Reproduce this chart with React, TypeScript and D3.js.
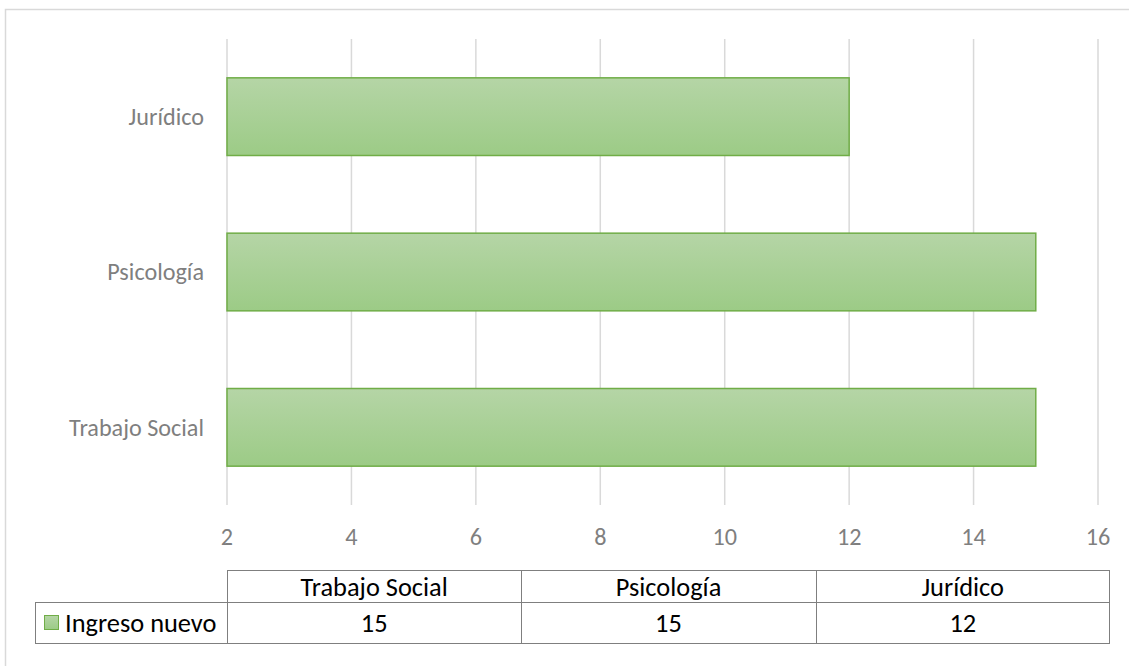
import * as d3 from 'd3'

// ─── Data ─────────────────────────────────────────────────────────────────────

const categories = ['Trabajo Social', 'Psicología', 'Jurídico']
const values = [15, 15, 12]
const seriesName = 'Ingreso nuevo'
const xTicks = [2, 4, 6, 8, 10, 12, 14, 16]

// ─── Layout ───────────────────────────────────────────────────────────────────

const W = 1129
const H = 666
const PLOT = { left: 227, right: 1098, top: 39, bottom: 505 }
const TABLE = { top: 570, mid: 602, bottom: 643, legendLeft: 35, right: 1110 }
const FONT = 'Carlito, Calibri, Lato, "Open Sans", sans-serif'
const LABEL_SIZE = 24.2
const TABLE_SIZE = 26.4

export default function App() {
  const x = d3.scaleLinear().domain([2, 16]).range([PLOT.left, PLOT.right])
  // Jurídico on top, Trabajo Social at bottom
  const y = d3.scaleBand<string>()
    .domain([...categories].reverse())
    .range([PLOT.top, PLOT.bottom])
    .paddingInner(0.5)
    .paddingOuter(0.25)

  const col = d3.scaleBand<string>()
    .domain(categories)
    .range([PLOT.left, TABLE.right])

  return (
    <svg width={W} height={H} style={{ position: 'absolute', left: 0, top: 0 }} fontFamily={FONT}>
      <defs>
        <linearGradient id="barFill" x1="0" y1="0" x2="0" y2="1">
          <stop offset="0%" stopColor="#b5d5a6" />
          <stop offset="100%" stopColor="#9ccb86" />
        </linearGradient>
      </defs>

      {/* chart area border */}
      <rect x={5.5} y={9.5} width={W + 10} height={H + 10} fill="#fff" stroke="#d9d9d9" strokeWidth={1.5} />

      {/* gridlines */}
      {xTicks.map((t) => (
        <line key={t} x1={x(t)} x2={x(t)} y1={PLOT.top} y2={PLOT.bottom} stroke="#d9d9d9" strokeWidth={1.5} />
      ))}

      {/* bars */}
      {categories.map((c, i) => (
        <rect
          key={c}
          x={x(2)}
          y={y(c)!}
          width={x(values[i]) - x(2)}
          height={y.bandwidth()}
          fill="url(#barFill)"
          stroke="#70ad47"
          strokeWidth={1.5}
        />
      ))}

      {/* category labels */}
      {categories.map((c) => (
        <text key={c} x={PLOT.left - 23} y={y(c)! + y.bandwidth() / 2} dy="0.35em"
          textAnchor="end" fontSize={LABEL_SIZE} fill="#7f7f7f">{c}</text>
      ))}

      {/* x tick labels */}
      {xTicks.map((t) => (
        <text key={t} x={x(t)} y={537} dy="0.35em" textAnchor="middle" fontSize={LABEL_SIZE} fill="#7f7f7f">{t}</text>
      ))}

      {/* data table */}
      <g stroke="#7f7f7f" strokeWidth={1} fill="none">
        <line x1={PLOT.left} x2={TABLE.right} y1={TABLE.top + 0.5} y2={TABLE.top + 0.5} />
        <line x1={TABLE.legendLeft} x2={TABLE.right} y1={TABLE.mid + 0.5} y2={TABLE.mid + 0.5} />
        <line x1={TABLE.legendLeft} x2={TABLE.right} y1={TABLE.bottom + 0.5} y2={TABLE.bottom + 0.5} />
        <line x1={TABLE.legendLeft + 0.5} x2={TABLE.legendLeft + 0.5} y1={TABLE.mid} y2={TABLE.bottom} />
        {categories.map((c) => (
          <line key={c} x1={Math.round(col(c)!) + 0.5} x2={Math.round(col(c)!) + 0.5} y1={TABLE.top} y2={TABLE.bottom} />
        ))}
        <line x1={TABLE.right - 0.5} x2={TABLE.right - 0.5} y1={TABLE.top} y2={TABLE.bottom} />
      </g>
      {categories.map((c, i) => (
        <g key={c}>
          <text x={col(c)! + col.bandwidth() / 2} y={(TABLE.top + TABLE.mid) / 2 + 1} dy="0.35em"
            textAnchor="middle" fontSize={TABLE_SIZE} fill="#000">{c}</text>
          <text x={col(c)! + col.bandwidth() / 2} y={(TABLE.mid + TABLE.bottom) / 2} dy="0.35em"
            textAnchor="middle" fontSize={TABLE_SIZE} fill="#000">{values[i]}</text>
        </g>
      ))}
      <rect x={44.5} y={615.5} width={14} height={14} fill="url(#barFill)" stroke="#70ad47" strokeWidth={1} />
      <text x={65} y={(TABLE.mid + TABLE.bottom) / 2} dy="0.35em" fontSize={TABLE_SIZE} fill="#000">{seriesName}</text>
    </svg>
  )
}
